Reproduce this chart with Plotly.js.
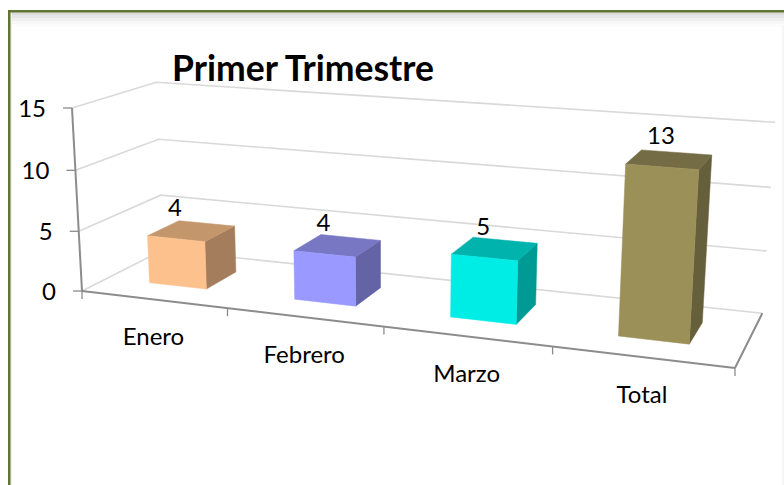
<!DOCTYPE html>
<html><head><meta charset="utf-8">
<script src="https://cdn.plot.ly/plotly-3.0.1.min.js"></script>
<style>html,body{margin:0;padding:0;background:#fff;overflow:hidden}</style></head>
<body><div id="chart" style="width:784px;height:485px"></div>
<script>
const categories = ['Enero', 'Febrero', 'Marzo', 'Total'];
const values = [4, 4, 5, 13];
const valueTicks = [0, 5, 10, 15];
const titleText = 'Primer Trimestre';
const frontColors = ['#FDC18E', '#9999FF', '#00EDE6', '#9C9059'];
const topColors = ['#C4966B', '#7777C4', '#00B3AD', '#746C44'];
const sideColors = ['#A47E5C', '#6363A6', '#009A94', '#665F3B'];

const FONT = 'Lato, Carlito, sans-serif';
const maxV = 15, BAR_W = 0.4, W0 = 0.3, W1 = 0.7;

// Perspective view of the Excel 3-D box: (category pos, value, depth) -> pixel axes
const O = [82, 291], UP = [735, 368], VP = [72, 108], WP = [163, 250];
const a = -0.14, b = -0.0317, c = 0.0959;
const A = [0, 1].map(i => UP[i] * (1 + a) - O[i]);
const B = [0, 1].map(i => VP[i] * (1 + b) - O[i]);
const C = [0, 1].map(i => WP[i] * (1 + c) - O[i]);
function P(cat, val, w) {
  const u = cat / categories.length, v = val / maxV;
  const d = 1 + a * u + b * v + c * w;
  return [0, 1].map(i => (O[i] + A[i] * u + B[i] * v + C[i] * w) / d);
}
const n = categories.length;
const traces = [];
function line(pts, color, width) {
  traces.push({type: 'scatter', mode: 'lines', x: pts.map(p => p[0]), y: pts.map(p => p[1]),
    line: {color, width}, hoverinfo: 'skip', showlegend: false});
}
function face(pts, color) {
  const q = pts.concat([pts[0]]);
  traces.push({type: 'scatter', mode: 'lines', x: q.map(p => p[0]), y: q.map(p => p[1]),
    fill: 'toself', fillcolor: color, line: {color, width: 0.5}, hoverinfo: 'skip', showlegend: false});
}
// gridlines on walls and floor
valueTicks.forEach(t => line([P(0, t, 0), P(0, t, 1), P(n, t, 1)], '#D9D9D9', 1.6));
// axes
line([P(n, 0, 0), P(n, 0, 1)], '#8C8C8C', 2);
line([P(0, 0, 0), P(0, maxV, 0)], '#8C8C8C', 2);
line([P(0, 0, 0), P(n, 0, 0)], '#8C8C8C', 2);
valueTicks.forEach(t => { const p = P(0, t, 0); line([[p[0] - 9, p[1]], p], '#8C8C8C', 1.3); });
for (let i = 0; i <= n; i++) { const p = P(i, 0, 0); line([p, [p[0], p[1] + 8]], '#8C8C8C', 1.3); }
// bars
categories.forEach((name, i) => {
  const l = i + 0.5 - BAR_W / 2, r = i + 0.5 + BAR_W / 2, v = values[i];
  face([P(r, 0, W0), P(r, 0, W1), P(r, v, W1), P(r, v, W0)], sideColors[i]);
  face([P(l, v, W0), P(r, v, W0), P(r, v, W1), P(l, v, W1)], topColors[i]);
  face([P(l, 0, W0), P(r, 0, W0), P(r, v, W0), P(l, v, W0)], frontColors[i]);
});
// text
const textTrace = (xs, ys, text, pos) => ({type: 'scatter', mode: 'text', x: xs, y: ys, text, textposition: pos,
  textfont: {family: FONT, size: 24, color: '#000'}, hoverinfo: 'skip', showlegend: false, cliponaxis: false});
traces.push(textTrace(valueTicks.map(t => P(0, t, 0)[0] - 26), valueTicks.map(t => P(0, t, 0)[1] + 3), valueTicks.map(String), 'middle left'));
traces.push(textTrace(categories.map((_, i) => P(i + .5, 0, 0)[0]), categories.map((_, i) => P(i + .5, 0, 0)[1] + 40), categories, 'middle center'));
traces.push(textTrace(values.map((_, i) => P(i + .5, values[i], W0)[0] - 1), values.map((v, i) => P(i + .5, v, W0)[1] - 29), values.map(String), 'middle center'));

// frame with a soft shadow
const shapes = [];
[['#DCDCDC', 12, 15], ['#E6E6E6', 15, 18], ['#EFEFEF', 18, 21], ['#F7F7F7', 21, 24], ['#FCFCFC', 24, 27]].forEach(s =>
  shapes.push({type: 'rect', xref: 'x', yref: 'y', x0: 10, x1: 784, y0: s[1], y1: s[2], fillcolor: s[0], line: {width: 0}, layer: 'below'}));
shapes.push({type: 'rect', xref: 'x', yref: 'y', x0: 782, x1: 784, y0: 25, y1: 485, fillcolor: '#F6F6F6', line: {width: 0}, layer: 'below'});
shapes.push({type: 'rect', xref: 'x', yref: 'y', x0: 10, x1: 12, y0: 12, y1: 485, fillcolor: '#F0F0F0', line: {width: 0}, layer: 'below'});
shapes.push({type: 'rect', xref: 'x', yref: 'y', x0: 8, x1: 784, y0: 10, y1: 12.5, fillcolor: '#5F7530', line: {width: 0}, layer: 'below'});
shapes.push({type: 'rect', xref: 'x', yref: 'y', x0: 8, x1: 10.5, y0: 10, y1: 485, fillcolor: '#5F7530', line: {width: 0}, layer: 'below'});

Plotly.newPlot('chart', traces, {
  width: 784, height: 485, margin: {l: 0, r: 0, t: 0, b: 0},
  paper_bgcolor: '#fff', plot_bgcolor: '#fff', showlegend: false,
  title: {text: titleText, x: 303 / 784, y: 1 - 69 / 485, xref: 'paper', yref: 'paper', xanchor: 'center', yanchor: 'middle',
    font: {family: FONT, size: 35.5, color: '#000', weight: 700}},
  xaxis: {range: [0, 784], visible: false, fixedrange: true},
  yaxis: {range: [485, 0], visible: false, fixedrange: true},
  shapes
}, {displayModeBar: false, staticPlot: true});
</script></body></html>
